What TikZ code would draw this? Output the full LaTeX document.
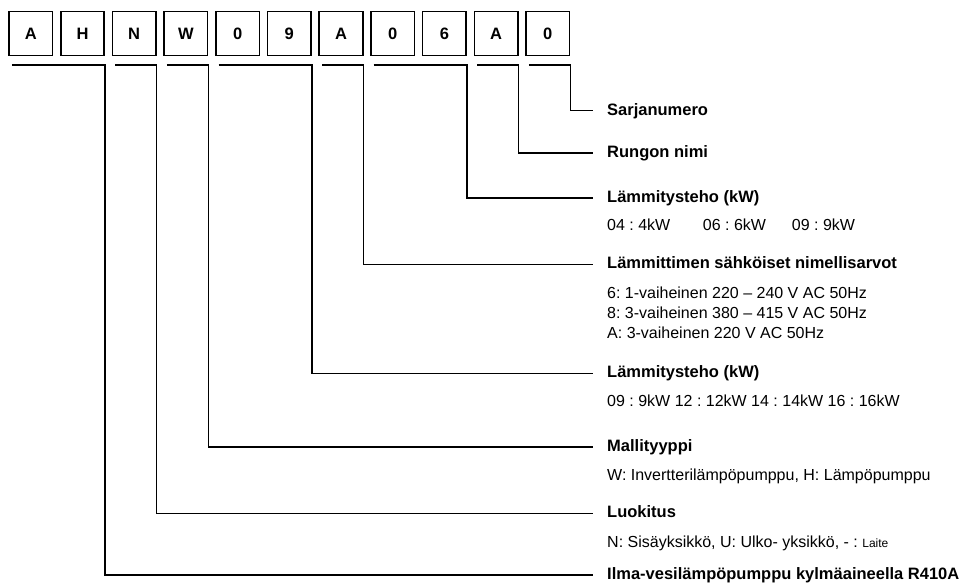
\documentclass[tikz,border=0pt]{standalone}
\usepackage{fontspec}
\setmainfont{Liberation Sans}
\frenchspacing
\begin{document}
\begin{tikzpicture}[x=1pt,y=-1pt,
  charbox/.style={draw, line width=1.6pt, minimum width=43.5pt, minimum height=44pt, inner sep=0pt, font=\fontsize{16.5}{16}\selectfont\bfseries},
  lead/.style={line width=1.3pt},
  ttl/.style={anchor=west, inner sep=0pt, text height=12pt, text depth=3pt, font=\fontsize{16.5}{18}\selectfont\bfseries},
  val/.style={anchor=base west, inner sep=0pt, font=\fontsize{16}{18}\selectfont}]
\useasboundingbox (0,0) rectangle (962,585);
% character boxes
\foreach \i/\c in {0/A,1/H,2/N,3/W,4/0,5/9,6/A,7/0,8/6,9/A,10/0}
  \node[charbox] (b\i) at ({30.8+51.7*\i}, 33.6) {\c};
% titles
\node[ttl] (t10) at (607,110.7) {Sarjanumero};
\node[ttl] (t9)  at (607,153) {Rungon nimi};
\node[ttl] (t8)  at (607,198) {Lämmitysteho (kW)};
\node[ttl] (t6)  at (607,264.5) {Lämmittimen sähköiset nimellisarvot};
\node[ttl] (t5)  at (607,373.3) {Lämmitysteho (kW)};
\node[ttl] (t3)  at (607,447) {Mallityyppi};
\node[ttl] (t2)  at (607,513.3) {Luokitus};
\node[ttl] (t1)  at (607,575) {Ilma-vesilämpöpumppu kylmäaineella R410A};
% values
\node[val] (v8a) at (607,231) {04 : 4kW};
\node[val] (v8b) at (702.7,231) {06 : 6kW};
\node[val] (v8c) at (791.7,231) {09 : 9kW};
\node[val] (v6a) at (607,298.5) {6: 1-vaiheinen 220 – 240 V AC 50Hz};
\node[val] (v6b) at (607,318.5) {8: 3-vaiheinen 380 – 415 V AC 50Hz};
\node[val] (v6c) at (607,338.5) {A: 3-vaiheinen 220 V AC 50Hz};
\node[val] (v5)  at (607,406.7) {09 : 9kW 12 : 12kW 14 : 14kW 16 : 16kW};
\node[val] (v3)  at (607,480.7) {W: Invertterilämpöpumppu, H: Lämpöpumppu};
\node[val] (v2)  at (607,547.4) {N: Sisäyksikkö, U: Ulko- yksikkö, - : {\fontsize{12}{12}\selectfont Laite}};
% bracket start points
\coordinate (g1) at (11.8,65);
\coordinate (g2) at (115.2,65);
\coordinate (g3) at (166.9,65);
\coordinate (g5) at (218.6,65);
\coordinate (g6) at (322.0,65);
\coordinate (g8) at (373.7,65);
\coordinate (g9) at (477.1,65);
\coordinate (g10) at (528.8,65);
% connectors
\foreach \g/\b/\t in {g1/b1/t1, g2/b2/t2, g3/b3/t3, g5/b5/t5, g6/b6/t6, g8/b8/t8, g9/b9/t9, g10/b10/t10}
  \draw[lead] (\g) -- (\g -| \b.east) -- (\b.east |- \t.west) -- ([xshift=-14pt]\t.west);
\end{tikzpicture}
\end{document}
